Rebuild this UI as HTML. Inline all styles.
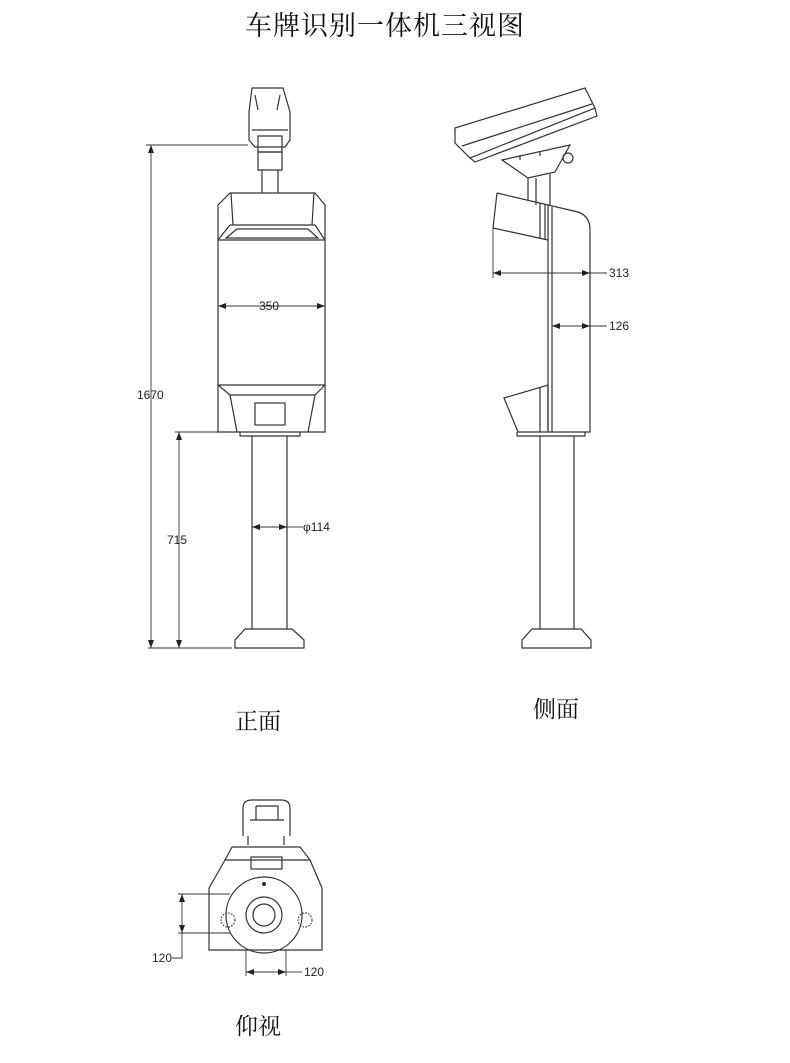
<!DOCTYPE html>
<html><head><meta charset="utf-8"><style>
html,body{margin:0;padding:0;background:#fff}
svg{display:block}
.t{font-family:"Liberation Serif","Noto Serif CJK SC",serif;fill:#111}
.n{font-family:"Liberation Sans",sans-serif;font-size:12px;fill:#222}
</style></head><body>
<svg width="790" height="1063" viewBox="0 0 790 1063" xmlns="http://www.w3.org/2000/svg">
<defs>
<marker id="a" markerWidth="8" markerHeight="6" refX="8" refY="3" orient="auto-start-reverse" markerUnits="userSpaceOnUse"><path d="M0,0 L8,3 L0,6z" fill="#222"/></marker>
</defs>
<text class="t" x="385" y="35" font-size="27" text-anchor="middle" letter-spacing="1">车牌识别一体机三视图</text>

<g fill="none" stroke="#333" stroke-width="1.2">
<!-- FRONT VIEW -->
<path d="M252,88 L283,88 L290,112 L290,140 L285,147 L255,147 L249,140 L249,112 Z"/>
<path d="M255,95 L258,110 M280,95 L277,110"/>
<path d="M252,130 L288,130 M258,136 L282,136 L282,152 L258,152 Z"/>
<path d="M258,152 L282,152 L282,170 L258,170 Z M262,170 L262,193 M278,170 L278,193"/>
<path d="M218,205 L230,193 L315,193 L325,205 L325,432 L218,432 Z"/>
<path d="M218,240 L325,240 M230,225 L315,225 L325,240 M230,225 L218,240 M237,229 L308,229 L318,238 L226,238 Z"/>
<path d="M231,193 L233,225 M314,193 L312,225"/>
<path d="M218,385 L325,385 M218,385 L230,395 L315,395 L325,385"/>
<path d="M230,395 L237,432 M315,395 L308,432"/>
<rect x="255" y="403" width="30" height="22"/>
<path d="M240,432 L240,436 L300,436 L300,432"/>
<path d="M252,436 L252,629 M287,436 L287,629"/>
<path d="M245,629 L292,629 L304,640 L304,648 L235,648 L235,640 Z"/>
<!-- dims front -->
<g stroke="#333" stroke-width="0.9">
<path d="M146,145 L248,145 M148,648 L232,648 M175,432 L218,432"/>
<path d="M151,145 L151,648" marker-start="url(#a)" marker-end="url(#a)"/>
<path d="M179,432 L179,648" marker-start="url(#a)" marker-end="url(#a)"/>
<path d="M218,306 L325,306" marker-start="url(#a)" marker-end="url(#a)"/>
<path d="M252,527 L287,527" marker-start="url(#a)" marker-end="url(#a)"/>
<path d="M287,527 L303,527"/>
</g>

<!-- SIDE VIEW -->
<path d="M455,128 L585,88 L595,108 L470,158 L455,143 Z"/>
<path d="M462,146 L592,104 M470,158 L475,162 L597,116 L595,108"/>
<circle cx="568" cy="158" r="5"/>
<path d="M502,160 L570,145 L555,172 L528,178 Z"/>
<path d="M520,155 L520,160 M540,152 L540,156"/>
<path d="M528,178 L528,200 M536,178 L536,205 M550,174 L550,205"/>
<path d="M497,193 L578,212 Q590,216 590,230 L590,432 L548,432 L548,205"/>
<path d="M552,207 L552,432"/>
<path d="M497,193 L493,228 L548,240 M540,203 L540,238 M545,204 L545,239"/>
<path d="M504,398 L548,385 L548,432 L518,432 Z M540,388 L540,432"/>
<path d="M517,432 L517,436 L585,436 L585,432"/>
<path d="M540,436 L540,629 M574,436 L574,629"/>
<path d="M532,629 L581,629 L591,640 L591,648 L522,648 L522,640 Z"/>
<g stroke="#333" stroke-width="0.9">
<path d="M493,228 L493,278"/>
<path d="M493,273 L590,273" marker-start="url(#a)" marker-end="url(#a)"/>
<path d="M590,273 L607,273"/>
<path d="M552,326 L590,326" marker-start="url(#a)" marker-end="url(#a)"/>
<path d="M590,326 L607,326"/>
</g>

<!-- BOTTOM VIEW -->
<path d="M243,836 L243,808 Q243,800 252,800 L281,800 Q290,800 290,808 L290,836"/>
<path d="M250,820 L284,820 M256,806 L278,806 L278,820 M256,806 L256,820"/>
<path d="M248,836 L248,845 M284,836 L284,845"/>
<path d="M225,860 L232,847 L300,847 L310,860 Z"/>
<rect x="251" y="857" width="31" height="12"/>
<path d="M209,888 L225,860 M322,888 L310,860 M209,888 L209,950 L322,950 L322,888"/>
<circle cx="264" cy="915" r="38"/>
<circle cx="264" cy="915" r="18"/>
<circle cx="264" cy="915" r="11"/>
<circle cx="264" cy="884" r="1.5" fill="#333"/>
<circle cx="228" cy="920" r="7" stroke-dasharray="1.5 1.5"/>
<circle cx="305" cy="920" r="7" stroke-dasharray="1.5 1.5"/>
<g stroke="#333" stroke-width="0.9">
<path d="M178,894 L230,894 M178,933 L230,933"/>
<path d="M182,894 L182,933" marker-start="url(#a)" marker-end="url(#a)"/>
<path d="M182,933 L182,958 L172,958"/>
<path d="M246,950 L246,976 M286,950 L286,976"/>
<path d="M246,972 L286,972" marker-start="url(#a)" marker-end="url(#a)"/>
<path d="M286,972 L302,972"/>
</g>
</g>

<text class="n" x="137" y="399">1670</text>
<text class="n" x="167" y="544">715</text>
<text class="n" x="259" y="310">350</text>
<text class="n" x="303" y="531">φ114</text>
<text class="n" x="609" y="277">313</text>
<text class="n" x="609" y="330">126</text>
<text class="n" x="152" y="962">120</text>
<text class="n" x="304" y="976">120</text>

<text class="t" x="258" y="729" font-size="23" text-anchor="middle">正面</text>
<text class="t" x="556" y="717" font-size="23" text-anchor="middle">侧面</text>
<text class="t" x="258" y="1034" font-size="23" text-anchor="middle">仰视</text>
</svg>
</body></html>
